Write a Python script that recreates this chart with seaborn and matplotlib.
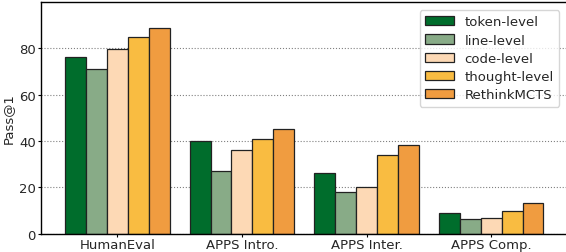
import pandas as pd
import numpy as np
import matplotlib.pyplot as plt
import seaborn as sns

# data
benchmarks = ['HumanEval', 'APPS Intro.', 'APPS Inter.', 'APPS Comp.']
methods = ['token-level', 'line-level', 'code-level', 'thought-level', 'RethinkMCTS']
token_level = [76.2, 40.0, 26.2, 9.0]
line_level = [71.3, 27.1, 18.1, 6.2]
code_level = [79.9, 36.0, 20.0, 7.0]
thought_level = [84.8, 41.0, 34.1, 10.0]
rethink_mcts = [89.0, 45.0, 38.1, 13.1]
colors = ['#006d2c', '#88ab87', '#fdd9b5', '#f9bc41', '#f09c40']

rows = []
for m, vals in zip(methods, [token_level, line_level, code_level, thought_level, rethink_mcts]):
    for b, v in zip(benchmarks, vals):
        rows.append({'benchmark': b, 'method': m, 'pass1': v})
df = pd.DataFrame(rows)

sns.set_style('white')
fig, ax = plt.subplots(figsize=(5.66, 2.53), dpi=100)
sns.barplot(data=df, x='benchmark', y='pass1', hue='method', palette=colors,
            width=0.84, edgecolor='#222222', linewidth=0.9, saturation=1, ax=ax)
ax.set_xlim(-0.61, 3.61)
ax.set_ylim(0, 100)
ax.set_yticks([0, 20, 40, 60, 80])
ax.yaxis.grid(True, linestyle=':', color='gray', linewidth=0.8)
ax.set_axisbelow(True)
ax.set_xlabel('')
ax.set_ylabel('Pass@1', fontsize=9.5, labelpad=3)
ax.tick_params(labelsize=9.5, length=2.5, width=0.8, pad=1.5, color='black', bottom=True, left=True)
ax.tick_params(axis='x', pad=0.5)
for s in ax.spines.values():
    s.set_color('black')
    s.set_linewidth(1)
ax.legend(loc='upper right', fontsize=9.5, frameon=True, handlelength=2.2,
          labelspacing=0.4, borderaxespad=0.6)
plt.subplots_adjust(left=0.073, right=1.002, bottom=0.072, top=0.988)
plt.savefig('out.png', dpi=100)
